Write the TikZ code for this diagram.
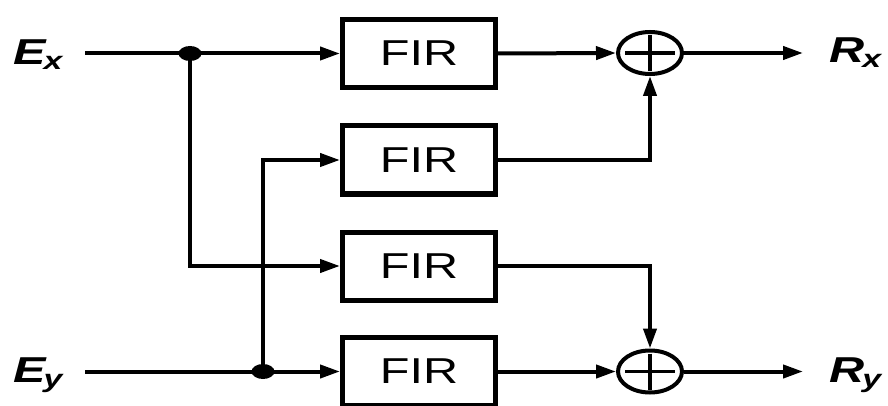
\documentclass[tikz,border=0pt]{standalone}
\usepackage{fontspec}
\setmainfont{Liberation Sans}
\usetikzlibrary{arrows.meta,shapes.geometric,calc}
\newcommand{\lbl}[2]{\scalebox{1.35}[1]{\fontsize{36}{36}\selectfont\bfseries\itshape #1\kern-1.5pt\raisebox{-5pt}{\fontsize{25}{25}\selectfont #2}}}
\begin{document}
\begin{tikzpicture}[x=1pt,y=-1pt,
  wire/.style={line width=4pt},
  arr/.style={wire,-{Triangle[length=20pt,width=13pt]}},
  firbox/.style={draw,line width=5pt,minimum width=153pt,minimum height=68pt,inner sep=0pt,
     font=\fontsize{36}{36}\selectfont},
  sumnode/.style={draw,ellipse,line width=4pt,minimum width=64pt,minimum height=42pt,inner sep=0pt},
  dotnode/.style={fill,ellipse,minimum width=23pt,minimum height=15pt,inner sep=0pt},
  lab/.style={inner sep=0pt,anchor=base west}]
\useasboundingbox (0,0) rectangle (888,406);
\clip (0,0) rectangle (888,406);
% FIR blocks
\node[firbox] (f1) at (419,53.5) {\scalebox{1.35}[1]{FIR}};
\node[firbox] (f2) at (419,160) {\scalebox{1.35}[1]{FIR}};
\node[firbox] (f3) at (419,266) {\scalebox{1.35}[1]{FIR}};
\node[firbox] (f4) at (419,371.5) {\scalebox{1.35}[1]{FIR}};
% summers
\node[sumnode] (s1) at (650,53) {};
\node[sumnode] (s2) at (650,371.5) {};
\draw[line width=3.5pt] ($(s1)+(-25,0)$) -- ($(s1)+(25,0)$) ($(s1)+(0,-18)$) -- ($(s1)+(0,18)$);
\draw[line width=3.5pt] ($(s2)+(-25,0)$) -- ($(s2)+(25,0)$) ($(s2)+(0,-18)$) -- ($(s2)+(0,18)$);
% labels
\node[lab] (ex) at (13,65) {\lbl{E}{x}};
\node[lab] (ey) at (13,382) {\lbl{E}{y}};
\node[lab] (rx) at (829,63) {\lbl{R}{x}};
\node[lab] (ry) at (829,382) {\lbl{R}{y}};
% terminals
\coordinate (inx) at (85,53.5);
\coordinate (iny) at (85,371.5);
\coordinate (outx) at (803,53);
\coordinate (outy) at (803,371.5);
% junction dots
\node[dotnode] (d1) at (190,53.5) {};
\node[dotnode] (d2) at (263,371.5) {};
% wires
\draw[arr] (inx) -- (f1.west);
\draw[arr] (iny) -- (f4.west);
\draw[arr] (d1.center) |- (f3.west);
\draw[arr] (d2.center) |- (f2.west);
\draw[arr] (f1.east) -- (s1.west);
\draw[arr] (f4.east) -- (s2.west);
\draw[arr] (f2.east) -| (s1.south);
\draw[arr] (f3.east) -| (s2.north);
\draw[arr] (s1.east) -- (outx);
\draw[arr] (s2.east) -- (outy);
\end{tikzpicture}
\end{document}
